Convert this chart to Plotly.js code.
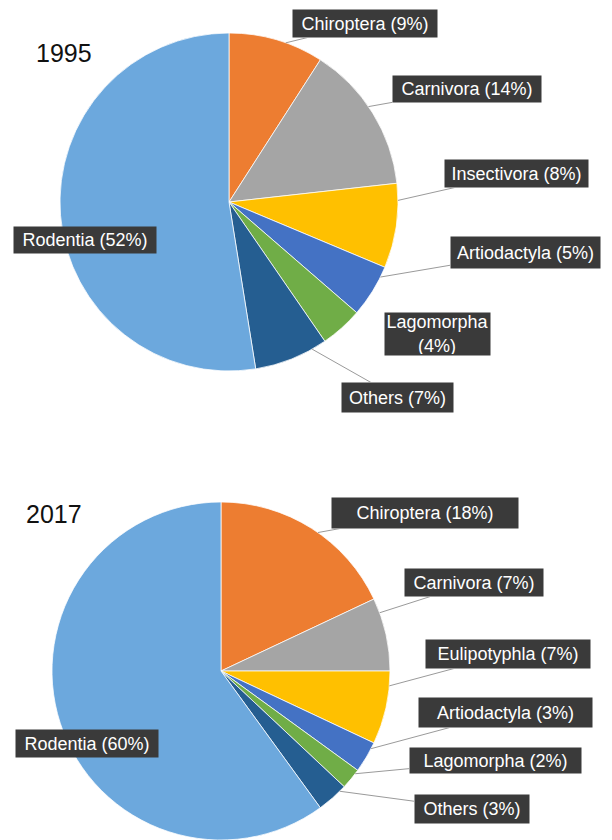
<!DOCTYPE html>
<html>
<head>
<meta charset="utf-8">
<script src="https://cdn.plot.ly/plotly-3.0.1.min.js"></script>
<style>html,body{margin:0;padding:0;background:#fff;}#chart{width:612px;height:840px;}</style>
</head>
<body>
<div id="chart"></div>
<script>
// ---- data ----
const labels1995 = ["Chiroptera", "Carnivora", "Insectivora", "Artiodactyla", "Lagomorpha", "Others", "Rodentia"];
const values1995 = [9, 14, 8, 5, 4, 7, 52];
const labels2017 = ["Chiroptera", "Carnivora", "Eulipotyphla", "Artiodactyla", "Lagomorpha", "Others", "Rodentia"];
const values2017 = [18, 7, 7, 3, 2, 3, 60];
const years = ["1995", "2017"];

// ---- styles ----
const sliceColors = ["#ED7D31", "#A5A5A5", "#FFC000", "#4472C4", "#70AD47", "#255E91", "#6CA8DD"];
const W = 612, H = 840;
const FONT = "Liberation Sans, Arial, sans-serif";

// pie geometry in pixels (center x, center y, radius)
const pieGeom = [
  {cx: 229, cy: 202, r: 169},
  {cx: 221, cy: 671, r: 169}
];
// label boxes [x0, y0, x1, y1] in pixels, leader flag, line-break flag
const boxes1995 = [
  {b: [293, 10, 437, 37], lead: true},
  {b: [393, 76, 541, 102], lead: true},
  {b: [445, 160, 588, 187], lead: true},
  {b: [451, 237, 600, 268], lead: true},
  {b: [385, 313, 490, 355], lead: false, br: true},
  {b: [342, 383, 453, 412], lead: true},
  {b: [14, 227, 156, 253], lead: false}
];
const boxes2017 = [
  {b: [332, 498, 518, 528], lead: true},
  {b: [405, 569, 543, 596], lead: true},
  {b: [426, 640, 590, 668], lead: true},
  {b: [419, 698, 592, 727], lead: true},
  {b: [410, 748, 581, 773], lead: true},
  {b: [415, 795, 529, 823], lead: true},
  {b: [16, 730, 158, 757], lead: false}
];
const titlePos = [{x: 34, y: 53}, {x: 24, y: 514}];

function px(x) { return x / W; }
function py(y) { return 1 - y / H; }

function pieTrace(labels, values, g) {
  return {
    type: "pie",
    labels: labels,
    values: values,
    sort: false,
    direction: "clockwise",
    rotation: 0,
    textinfo: "none",
    hoverinfo: "label+value",
    showlegend: false,
    marker: {colors: sliceColors, line: {color: "rgba(255,255,255,0.75)", width: 1}},
    domain: {x: [px(g.cx - g.r), px(g.cx + g.r)], y: [Math.max(0, py(g.cy + g.r)), Math.min(1, py(g.cy - g.r))]}
  };
}

function labelAnnotations(labels, values, g, boxes) {
  const total = values.reduce((a, b) => a + b, 0);
  let cum = 0;
  const out = [];
  labels.forEach((lab, i) => {
    const a0 = cum / total * 2 * Math.PI;
    cum += values[i];
    const a1 = cum / total * 2 * Math.PI;
    const bx = boxes[i].b;
    const bcx = (bx[0] + bx[2]) / 2, bcy = (bx[1] + bx[3]) / 2;
    // leader target: point on the slice's arc nearest to the box's left edge
    const lo = a0 + 0.2 * (a1 - a0), hi = a1 - 0.2 * (a1 - a0);
    let best = null;
    for (let k = 0; k <= 60; k++) {
      const t = lo + (hi - lo) * k / 60;
      const x = g.cx + g.r * Math.sin(t), y = g.cy - g.r * Math.cos(t);
      const d = Math.hypot(x - bx[0], y - bcy);
      if (!best || d < best.d) best = {x: x, y: y, d: d};
    }
    const text = lab + (boxes[i].br ? "<br>" : " ") + "(" + values[i] + "%)";
    const a = {
      text: text,
      xref: "paper", yref: "paper",
      font: {family: FONT, size: 18, color: "#ffffff"},
      bgcolor: "#3a3a3a",
      borderpad: 1,
      width: bx[2] - bx[0] - 2,
      height: bx[3] - bx[1] - 2,
      align: "center",
      valign: "middle"
    };
    if (boxes[i].lead) {
      Object.assign(a, {
        x: px(best.x), y: py(best.y),
        showarrow: true, arrowhead: 0, arrowwidth: 1, arrowcolor: "#9a9a9a", standoff: 0,
        ax: bcx - best.x, ay: bcy - best.y
      });
    } else {
      Object.assign(a, {x: px(bcx), y: py(bcy), xanchor: "center", yanchor: "middle", showarrow: false});
    }
    out.push(a);
  });
  return out;
}

const data = [
  pieTrace(labels1995, values1995, pieGeom[0]),
  pieTrace(labels2017, values2017, pieGeom[1])
];

let annotations = [];
annotations = annotations.concat(labelAnnotations(labels1995, values1995, pieGeom[0], boxes1995));
annotations = annotations.concat(labelAnnotations(labels2017, values2017, pieGeom[1], boxes2017));
years.forEach((yr, i) => {
  annotations.push({
    text: yr, xref: "paper", yref: "paper",
    x: px(titlePos[i].x), y: py(titlePos[i].y),
    xanchor: "left", yanchor: "middle", showarrow: false,
    font: {family: FONT, size: 25, color: "#111111"}
  });
});

const layout = {
  width: W, height: H,
  margin: {l: 0, r: 0, t: 0, b: 0},
  paper_bgcolor: "#ffffff",
  plot_bgcolor: "#ffffff",
  showlegend: false,
  annotations: annotations
};

Plotly.newPlot("chart", data, layout, {displayModeBar: false, staticPlot: true});
</script>
</body>
</html>
